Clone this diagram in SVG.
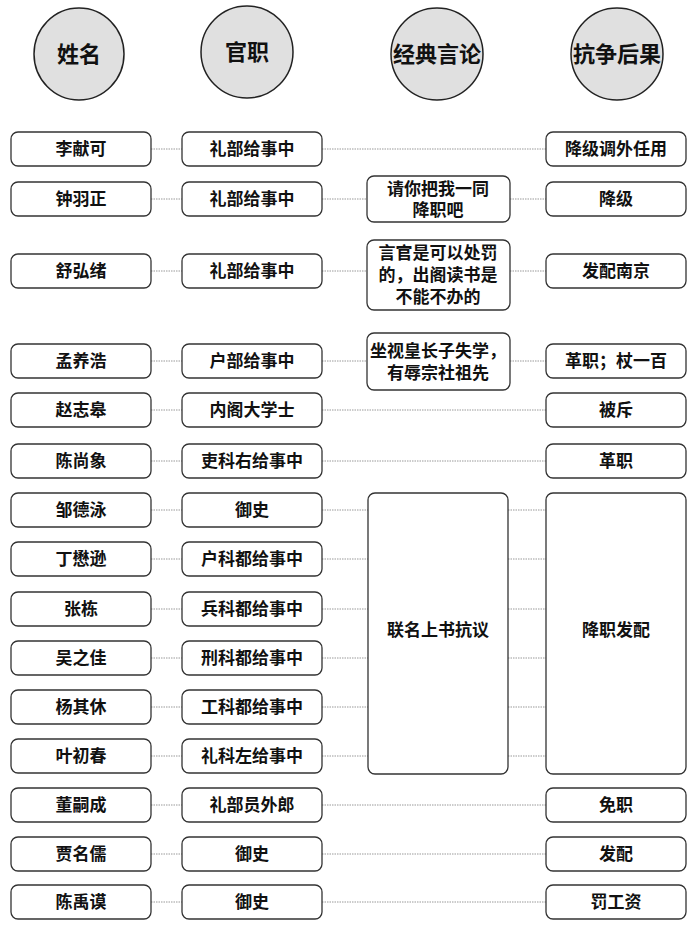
<svg xmlns="http://www.w3.org/2000/svg" width="700" height="927" viewBox="0 0 700 927">
<style>
.h{fill:#e0e0e0;stroke:#222;stroke-width:1.5}
.b{fill:#fff;stroke:#333;stroke-width:1.3}
text{font-family:"Liberation Serif","Noto Sans CJK SC",serif;font-weight:bold;fill:#111;text-anchor:middle;dominant-baseline:central}
.t{font-size:17px}
.ht{font-size:22px}
.c line{stroke:#999;stroke-width:1;stroke-dasharray:1.5 1}
</style>
<rect width="700" height="927" fill="#fff"/>
<g id="headers">
<g id="h1"><ellipse class="h" cx="79" cy="54" rx="45" ry="46"/><text class="ht" x="79" y="54">姓名</text></g>
<g id="h2"><ellipse class="h" cx="247" cy="52" rx="46" ry="46"/><text class="ht" x="247" y="52">官职</text></g>
<g id="h3"><ellipse class="h" cx="437" cy="54" rx="46" ry="46"/><text class="ht" x="437" y="54">经典言论</text></g>
<g id="h4"><ellipse class="h" cx="617" cy="54" rx="46" ry="46"/><text class="ht" x="617" y="54">抗争后果</text></g>
</g>
<g class="c" id="connectors">
<line x1="151" y1="149" x2="182" y2="149"/><line x1="322" y1="149" x2="546" y2="149"/>
<line x1="151" y1="199" x2="182" y2="199"/><line x1="322" y1="199" x2="367" y2="199"/><line x1="510" y1="199" x2="546" y2="199"/>
<line x1="151" y1="271" x2="182" y2="271"/><line x1="322" y1="271" x2="367" y2="271"/><line x1="510" y1="271" x2="546" y2="271"/>
<line x1="151" y1="361" x2="182" y2="361"/><line x1="322" y1="361" x2="367" y2="361"/><line x1="510" y1="361" x2="546" y2="361"/>
<line x1="151" y1="410" x2="182" y2="410"/><line x1="322" y1="410" x2="546" y2="410"/>
<line x1="151" y1="461" x2="182" y2="461"/><line x1="322" y1="461" x2="546" y2="461"/>
<line x1="151" y1="510" x2="182" y2="510"/><line x1="322" y1="510" x2="368" y2="510"/><line x1="508" y1="510" x2="546" y2="510"/>
<line x1="151" y1="559" x2="182" y2="559"/><line x1="322" y1="559" x2="368" y2="559"/><line x1="508" y1="559" x2="546" y2="559"/>
<line x1="151" y1="609" x2="182" y2="609"/><line x1="322" y1="609" x2="368" y2="609"/><line x1="508" y1="609" x2="546" y2="609"/>
<line x1="151" y1="658" x2="182" y2="658"/><line x1="322" y1="658" x2="368" y2="658"/><line x1="508" y1="658" x2="546" y2="658"/>
<line x1="151" y1="707" x2="182" y2="707"/><line x1="322" y1="707" x2="368" y2="707"/><line x1="508" y1="707" x2="546" y2="707"/>
<line x1="151" y1="756" x2="182" y2="756"/><line x1="322" y1="756" x2="368" y2="756"/><line x1="508" y1="756" x2="546" y2="756"/>
<line x1="151" y1="805" x2="182" y2="805"/><line x1="322" y1="805" x2="546" y2="805"/>
<line x1="151" y1="854" x2="182" y2="854"/><line x1="322" y1="854" x2="546" y2="854"/>
<line x1="151" y1="902" x2="182" y2="902"/><line x1="322" y1="902" x2="546" y2="902"/>
</g>
<g id="names">
<g id="n1"><rect class="b" x="11" y="132" width="140" height="34" rx="7"/><text class="t" x="81" y="149">李献可</text></g>
<g id="n2"><rect class="b" x="11" y="182" width="140" height="34" rx="7"/><text class="t" x="81" y="199">钟羽正</text></g>
<g id="n3"><rect class="b" x="11" y="254" width="140" height="34" rx="7"/><text class="t" x="81" y="271">舒弘绪</text></g>
<g id="n4"><rect class="b" x="11" y="344" width="140" height="34" rx="7"/><text class="t" x="81" y="361">孟养浩</text></g>
<g id="n5"><rect class="b" x="11" y="393" width="140" height="34" rx="7"/><text class="t" x="81" y="410">赵志皋</text></g>
<g id="n6"><rect class="b" x="11" y="444" width="140" height="34" rx="7"/><text class="t" x="81" y="461">陈尚象</text></g>
<g id="n7"><rect class="b" x="11" y="493" width="140" height="34" rx="7"/><text class="t" x="81" y="510">邹德泳</text></g>
<g id="n8"><rect class="b" x="11" y="542" width="140" height="34" rx="7"/><text class="t" x="81" y="559">丁懋逊</text></g>
<g id="n9"><rect class="b" x="11" y="592" width="140" height="34" rx="7"/><text class="t" x="81" y="609">张栋</text></g>
<g id="n10"><rect class="b" x="11" y="641" width="140" height="34" rx="7"/><text class="t" x="81" y="658">吴之佳</text></g>
<g id="n11"><rect class="b" x="11" y="690" width="140" height="34" rx="7"/><text class="t" x="81" y="707">杨其休</text></g>
<g id="n12"><rect class="b" x="11" y="739" width="140" height="34" rx="7"/><text class="t" x="81" y="756">叶初春</text></g>
<g id="n13"><rect class="b" x="11" y="788" width="140" height="34" rx="7"/><text class="t" x="81" y="805">董嗣成</text></g>
<g id="n14"><rect class="b" x="11" y="837" width="140" height="34" rx="7"/><text class="t" x="81" y="854">贾名儒</text></g>
<g id="n15"><rect class="b" x="11" y="885" width="140" height="34" rx="7"/><text class="t" x="81" y="902">陈禹谟</text></g>
</g>
<g id="offices">
<g id="o1"><rect class="b" x="182" y="132" width="140" height="34" rx="7"/><text class="t" x="252" y="149">礼部给事中</text></g>
<g id="o2"><rect class="b" x="182" y="182" width="140" height="34" rx="7"/><text class="t" x="252" y="199">礼部给事中</text></g>
<g id="o3"><rect class="b" x="182" y="254" width="140" height="34" rx="7"/><text class="t" x="252" y="271">礼部给事中</text></g>
<g id="o4"><rect class="b" x="182" y="344" width="140" height="34" rx="7"/><text class="t" x="252" y="361">户部给事中</text></g>
<g id="o5"><rect class="b" x="182" y="393" width="140" height="34" rx="7"/><text class="t" x="252" y="410">内阁大学士</text></g>
<g id="o6"><rect class="b" x="182" y="444" width="140" height="34" rx="7"/><text class="t" x="252" y="461">吏科右给事中</text></g>
<g id="o7"><rect class="b" x="182" y="493" width="140" height="34" rx="7"/><text class="t" x="252" y="510">御史</text></g>
<g id="o8"><rect class="b" x="182" y="542" width="140" height="34" rx="7"/><text class="t" x="252" y="559">户科都给事中</text></g>
<g id="o9"><rect class="b" x="182" y="592" width="140" height="34" rx="7"/><text class="t" x="252" y="609">兵科都给事中</text></g>
<g id="o10"><rect class="b" x="182" y="641" width="140" height="34" rx="7"/><text class="t" x="252" y="658">刑科都给事中</text></g>
<g id="o11"><rect class="b" x="182" y="690" width="140" height="34" rx="7"/><text class="t" x="252" y="707">工科都给事中</text></g>
<g id="o12"><rect class="b" x="182" y="739" width="140" height="34" rx="7"/><text class="t" x="252" y="756">礼科左给事中</text></g>
<g id="o13"><rect class="b" x="182" y="788" width="140" height="34" rx="7"/><text class="t" x="252" y="805">礼部员外郎</text></g>
<g id="o14"><rect class="b" x="182" y="837" width="140" height="34" rx="7"/><text class="t" x="252" y="854">御史</text></g>
<g id="o15"><rect class="b" x="182" y="885" width="140" height="34" rx="7"/><text class="t" x="252" y="902">御史</text></g>
</g>
<g id="quotes">
<g id="q1"><rect class="b" x="367" y="176" width="143" height="46" rx="7"/><text class="t" x="438" y="189">请你把我一同</text><text class="t" x="438" y="210">降职吧</text></g>
<g id="q2"><rect class="b" x="367" y="240" width="143" height="70" rx="7"/><text class="t" x="438" y="253">言官是可以处罚</text><text class="t" x="438" y="275">的，出阁读书是</text><text class="t" x="438" y="297">不能不办的</text></g>
<g id="q3"><rect class="b" x="367" y="333" width="143" height="57" rx="7"/><text class="t" x="438" y="351">坐视皇长子失学，</text><text class="t" x="438" y="373">有辱宗社祖先</text></g>
<g id="q4"><rect class="b" x="368" y="493" width="140" height="281" rx="7"/><text class="t" x="438" y="630">联名上书抗议</text></g>
</g>
<g id="results">
<g id="r1"><rect class="b" x="546" y="132" width="140" height="34" rx="7"/><text class="t" x="616" y="149">降级调外任用</text></g>
<g id="r2"><rect class="b" x="546" y="182" width="140" height="34" rx="7"/><text class="t" x="616" y="199">降级</text></g>
<g id="r3"><rect class="b" x="546" y="254" width="140" height="34" rx="7"/><text class="t" x="616" y="271">发配南京</text></g>
<g id="r4"><rect class="b" x="546" y="344" width="140" height="34" rx="7"/><text class="t" x="616" y="361">革职；杖一百</text></g>
<g id="r5"><rect class="b" x="546" y="393" width="140" height="34" rx="7"/><text class="t" x="616" y="410">被斥</text></g>
<g id="r6"><rect class="b" x="546" y="444" width="140" height="34" rx="7"/><text class="t" x="616" y="461">革职</text></g>
<g id="r7"><rect class="b" x="546" y="493" width="140" height="281" rx="7"/><text class="t" x="616" y="630">降职发配</text></g>
<g id="r8"><rect class="b" x="546" y="788" width="140" height="34" rx="7"/><text class="t" x="616" y="805">免职</text></g>
<g id="r9"><rect class="b" x="546" y="837" width="140" height="34" rx="7"/><text class="t" x="616" y="854">发配</text></g>
<g id="r10"><rect class="b" x="546" y="885" width="140" height="34" rx="7"/><text class="t" x="616" y="902">罚工资</text></g>
</g>
</svg>
